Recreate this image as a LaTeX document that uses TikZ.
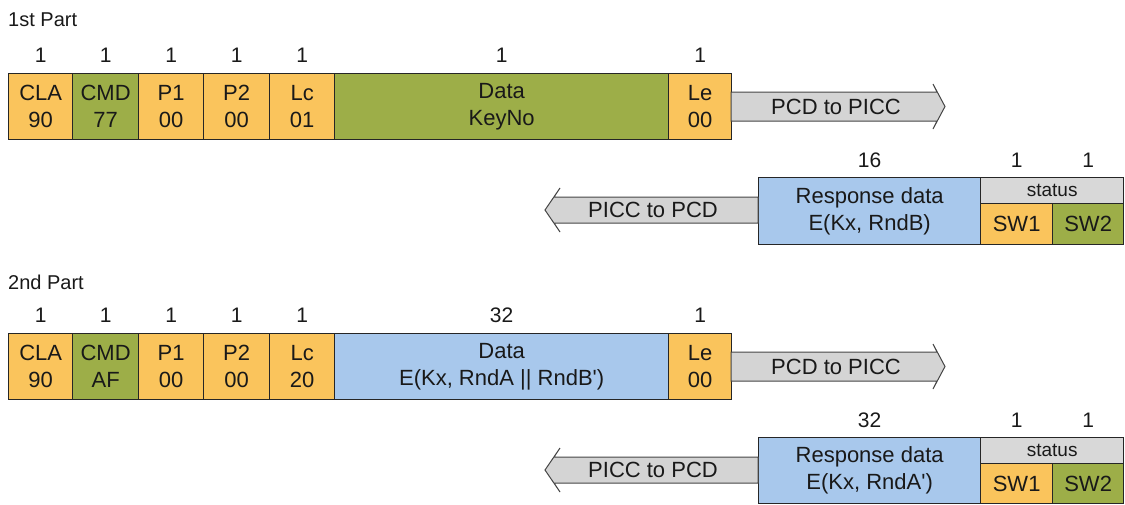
\documentclass[tikz,border=0pt]{standalone}
\usepackage{fontspec}
\setmainfont{Liberation Sans}
\definecolor{forange}{RGB}{250,196,92}
\definecolor{fgreen}{RGB}{157,174,72}
\definecolor{fblue}{RGB}{168,200,236}
\definecolor{fgray}{RGB}{216,216,216}
\definecolor{agray}{RGB}{212,212,212}
\definecolor{aline}{RGB}{70,70,70}
\definecolor{txt}{RGB}{25,25,25}
\begin{document}
\begin{tikzpicture}[x=1pt,y=-1pt,
  field/.style={draw=black!85, line width=1.3pt, inner sep=0pt, anchor=north west,
    align=center, text=txt, font=\fontsize{22}{27}\selectfont},
  cnt/.style={text=txt, font=\fontsize{21}{24}\selectfont, inner sep=0pt},
  ttl/.style={text=txt, font=\fontsize{20}{22}\selectfont, inner sep=0pt, anchor=west},
  dirarrow/.style={draw=aline, fill=agray, line width=1pt, line join=miter},
  alabel/.style={text=txt, font=\fontsize{22}{24}\selectfont, inner sep=0pt},
  stfont/.style={font=\fontsize{19}{20}\selectfont}
]
\useasboundingbox (0,0) rectangle (1125,504);

% ---------- 1st Part ----------
\node[ttl] (t1) at (8,20) {1st Part};
\node[field, fill=forange, minimum width=64, minimum height=66] (cla1) at (8,73) {CLA\\90};
\node[field, fill=fgreen, minimum width=66, minimum height=66] (cmd1) at (72,73) {CMD\\77};
\node[field, fill=forange, minimum width=65, minimum height=66] (pa1) at (138,73) {P1\\00};
\node[field, fill=forange, minimum width=66, minimum height=66] (pb1) at (203,73) {P2\\00};
\node[field, fill=forange, minimum width=65, minimum height=66] (lc1) at (269,73) {Lc\\01};
\node[field, fill=fgreen, minimum width=334, minimum height=66] (data1) at (334,73) {Data\\KeyNo};
\node[field, fill=forange, minimum width=63, minimum height=66] (le1) at (668,73) {Le\\00};
\foreach \n/\v in {cla1/1,cmd1/1,pa1/1,pb1/1,lc1/1,data1/1,le1/1}
  \node[cnt] (n\n) at (\n.north |- 0,55) {\v};

\draw[dirarrow] (731,92) -- (937,92) -- (933,84) -- (945,106.5) -- (933,129) -- (937,121) -- (731,121) -- cycle;
\node[alabel] (a1) at (836,106.5) {PCD to PICC};

\node[field, fill=fblue, minimum width=222, minimum height=67] (resp1) at (758,177) {Response data\\E(Kx, RndB)};
\node[field, fill=fgray, minimum width=143, minimum height=26, stfont] (st1) at (980,177) {status};
\node[field, fill=forange, minimum width=72, minimum height=41] (swa1) at (980,203) {SW1};
\node[field, fill=fgreen, minimum width=71, minimum height=41] (swb1) at (1052,203) {SW2};
\node[cnt] (nresp1) at (resp1.north |- 0,160) {16};
\node[cnt] (nswa1) at (swa1.north |- 0,160) {1};
\node[cnt] (nswb1) at (swb1.north |- 0,160) {1};

\draw[dirarrow] (758,197) -- (554,197) -- (560,188) -- (545,210) -- (560,232) -- (554,223) -- (758,223) -- cycle;
\node[alabel] (b1) at (653,210) {PICC to PCD};

% ---------- 2nd Part ----------
\node[ttl] (t2) at (8,282) {2nd Part};
\node[field, fill=forange, minimum width=64, minimum height=66] (cla2) at (8,333) {CLA\\90};
\node[field, fill=fgreen, minimum width=66, minimum height=66] (cmd2) at (72,333) {CMD\\AF};
\node[field, fill=forange, minimum width=65, minimum height=66] (pa2) at (138,333) {P1\\00};
\node[field, fill=forange, minimum width=66, minimum height=66] (pb2) at (203,333) {P2\\00};
\node[field, fill=forange, minimum width=65, minimum height=66] (lc2) at (269,333) {Lc\\20};
\node[field, fill=fblue, minimum width=334, minimum height=66] (data2) at (334,333) {Data\\E(Kx, RndA || RndB\textquotesingle)};
\node[field, fill=forange, minimum width=63, minimum height=66] (le2) at (668,333) {Le\\00};
\foreach \n/\v in {cla2/1,cmd2/1,pa2/1,pb2/1,lc2/1,data2/32,le2/1}
  \node[cnt] (n\n) at (\n.north |- 0,315) {\v};

\draw[dirarrow] (731,352) -- (937,352) -- (933,344) -- (945,366.5) -- (933,389) -- (937,381) -- (731,381) -- cycle;
\node[alabel] (a2) at (836,366.5) {PCD to PICC};

\node[field, fill=fblue, minimum width=222, minimum height=66] (resp2) at (758,437) {Response data\\E(Kx, RndA\textquotesingle)};
\node[field, fill=fgray, minimum width=143, minimum height=26, stfont] (st2) at (980,437) {status};
\node[field, fill=forange, minimum width=72, minimum height=40] (swa2) at (980,463) {SW1};
\node[field, fill=fgreen, minimum width=71, minimum height=40] (swb2) at (1052,463) {SW2};
\node[cnt] (nresp2) at (resp2.north |- 0,420) {32};
\node[cnt] (nswa2) at (swa2.north |- 0,420) {1};
\node[cnt] (nswb2) at (swb2.north |- 0,420) {1};

\draw[dirarrow] (758,457) -- (554,457) -- (560,448) -- (545,470) -- (560,492) -- (554,483) -- (758,483) -- cycle;
\node[alabel] (b2) at (653,470) {PICC to PCD};
\end{tikzpicture}
\end{document}
